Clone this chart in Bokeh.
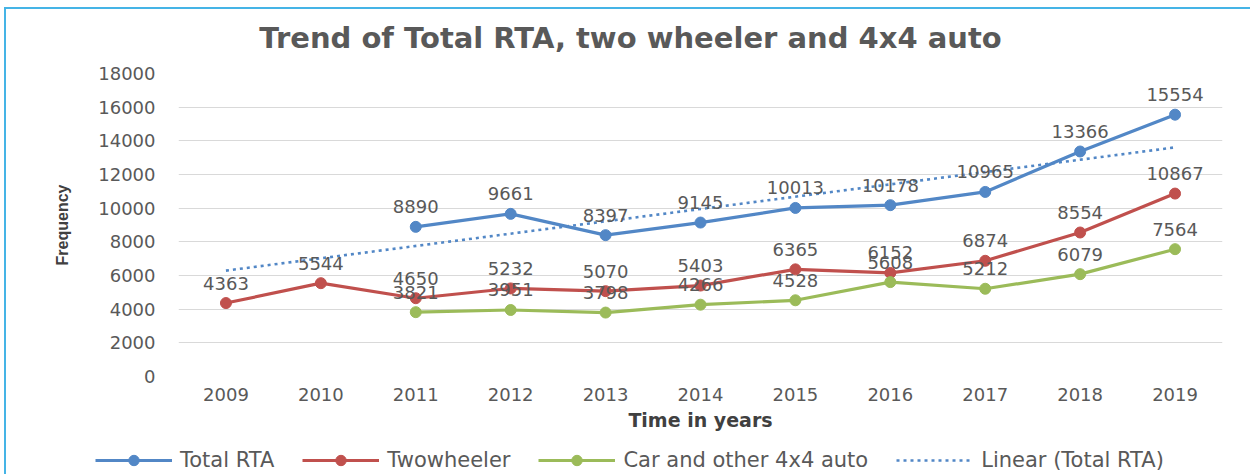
import math
from bokeh.plotting import figure
from bokeh.layouts import column
from bokeh.models import (ColumnDataSource, FactorRange, Range1d, FixedTicker,
                          Label, Legend, LegendItem)
from bokeh.core.properties import value
from bokeh.embed import file_html
from bokeh.resources import INLINE

# ---------------- data ----------------
years = ["2009", "2010", "2011", "2012", "2013", "2014",
         "2015", "2016", "2017", "2018", "2019"]
total_rta = [None, None, 8890, 9661, 8397, 9145, 10013, 10178, 10965, 13366, 15554]
twowheeler = [4363, 5544, 4650, 5232, 5070, 5403, 6365, 6152, 6874, 8554, 10867]
car_4x4 = [None, None, 3821, 3951, 3798, 4266, 4528, 5608, 5212, 6079, 7564]
trend_years = ["2009", "2019"]
trend_total_rta = [6290, 13610]

series_names = ["Total RTA", "Twowheeler", "Car and other 4x4 auto"]
trend_name = "Linear (Total RTA)"
title_text = "Trend of Total RTA, two wheeler and 4x4 auto"
x_title = "Time in years"
y_title = "Frequency"

BLUE = "#5287C6"
RED = "#C0504D"
GREEN = "#9BBB59"
TEXT = "#595959"
FONT = "DejaVu Sans"
BORDER = "2px solid #45B4E6"
series_colors = [BLUE, RED, GREEN]


def make_source(vals):
    xs = [y for y, v in zip(years, vals) if v is not None]
    vs = [v for v in vals if v is not None]
    return ColumnDataSource(dict(x=xs, y=vs, label=[str(v) for v in vs]))


def strip(height):
    f = figure(width=1244, height=height, output_backend="svg", toolbar_location=None,
               x_axis_type=None, y_axis_type=None,
               x_range=Range1d(0, 1), y_range=Range1d(0, 1),
               min_border_left=0, min_border_right=0,
               min_border_top=0, min_border_bottom=0)
    f.outline_line_color = None
    f.grid.visible = False
    return f


# ---------------- title strip ----------------
t = strip(50)
t.add_layout(Label(x=452, y=22, x_units="screen", y_units="screen",
                   text=title_text, text_align="center", text_baseline="middle",
                   text_font=FONT, text_font_style="bold", text_font_size="29px",
                   text_color=TEXT))

# ---------------- main chart ----------------
p = figure(x_range=FactorRange(factors=years, range_padding=0),
           y_range=Range1d(0, 18000),
           width=1244, height=380, output_backend="svg", toolbar_location=None,
           min_border_left=172, min_border_right=28,
           min_border_top=14, min_border_bottom=63)
p.outline_line_color = None
p.background_fill_color = "white"
p.border_fill_color = "white"
p.title.standoff = 0

p.yaxis.ticker = FixedTicker(ticks=list(range(0, 18001, 2000)))
p.ygrid.ticker = FixedTicker(ticks=list(range(0, 18001, 2000)))
p.ygrid.grid_line_color = "#D9D9D9"
p.ygrid.grid_line_width = 1
p.xgrid.grid_line_color = None
for ax in (p.xaxis, p.yaxis):
    ax.axis_line_color = None
    ax.major_tick_line_color = None
    ax.minor_tick_line_color = None
    ax.major_label_text_font = FONT
    ax.major_label_text_font_size = "18px"
    ax.major_label_text_color = TEXT
p.yaxis.major_label_standoff = 17
p.xaxis.major_label_standoff = 5
p.yaxis.axis_label = y_title
p.yaxis.axis_label_text_font = "Liberation Sans"
p.yaxis.axis_label_text_font_style = "bold"
p.yaxis.axis_label_text_font_size = "16px"
p.yaxis.axis_label_text_color = "#404040"
p.yaxis.axis_label_standoff = 24
p.xaxis.axis_label = x_title
p.xaxis.axis_label_text_font = FONT
p.xaxis.axis_label_text_font_style = "bold"
p.xaxis.axis_label_text_font_size = "19px"
p.xaxis.axis_label_text_color = "#404040"
p.xaxis.axis_label_standoff = 5

sources = []
for vals, col in zip([total_rta, twowheeler, car_4x4], series_colors):
    src = make_source(vals)
    p.line("x", "y", source=src, line_color=col, line_width=3.2)
    p.scatter("x", "y", source=src, marker="circle", size=11,
              fill_color=col, line_color=col)
    sources.append(src)

trend_src = ColumnDataSource(dict(x=trend_years, y=trend_total_rta))
p.line("x", "y", source=trend_src, line_color=BLUE, line_width=2.6, line_dash="3 4")

for src in sources:
    p.text("x", "y", text="label", source=src, text_align="center",
           text_baseline="middle", y_offset=-20,
           text_font=value(FONT), text_font_size="18px", text_color=TEXT)

# ---------------- legend strip ----------------
q = strip(35)
items = []
for name, col in zip(series_names, series_colors):
    ln = q.line(x=[-10, -9], y=[-10, -9], line_color=col, line_width=3.2)
    sc = q.scatter(x=[-10], y=[-10], marker="circle", size=11, fill_color=col, line_color=col)
    items.append(LegendItem(label=name, renderers=[ln, sc]))
tl = q.line(x=[-10, -9], y=[-10, -9], line_color=BLUE, line_width=2.6, line_dash="3 4")
items.append(LegendItem(label=trend_name, renderers=[tl]))
legend = Legend(items=items, location=(89, 1), orientation="horizontal",
                glyph_width=77, glyph_height=26, label_height=26,
                label_standoff=8, spacing=28, padding=0, margin=0,
                border_line_color=None, background_fill_alpha=0,
                label_text_font=FONT, label_text_font_size="21px",
                label_text_color=TEXT)
q.add_layout(legend, "center")

top = column(t, p, spacing=0)
top.styles = {"border-top": BORDER, "border-left": BORDER,
              "margin-left": "4px", "margin-top": "7px", "vertical-align": "top"}
bottom = column(q, spacing=0)
bottom.styles = {"border-left": BORDER, "margin-left": "4px", "vertical-align": "top"}

open("out.html", "w").write(file_html([top, bottom], INLINE))
